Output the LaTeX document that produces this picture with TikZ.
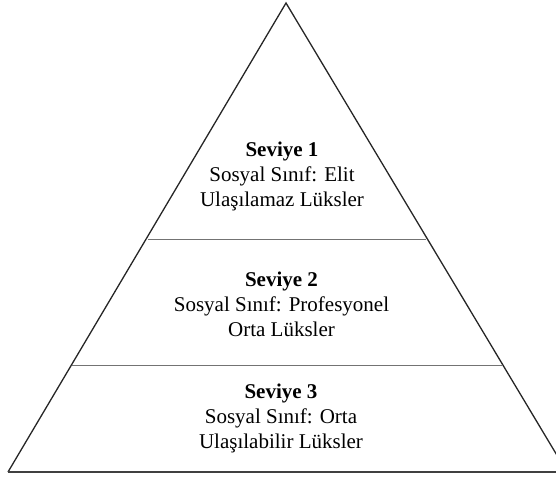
\documentclass[tikz,border=0pt]{standalone}
\usepackage{fontspec}
\setmainfont{Liberation Serif}
\begin{document}
\begin{tikzpicture}[x=1pt,y=-1pt,
  outline/.style={draw=black!85,line width=1.3pt,line join=miter},
  divider/.style={draw=black!55,line width=0.9pt},
  level/.style={align=center,font=\fontsize{21}{25}\selectfont,inner sep=0pt}]
\useasboundingbox (0,0) rectangle (556,477);
\clip (0,0) rectangle (556,477);
\coordinate (apex) at (286,3);
\coordinate (bl) at (8,472);
\coordinate (br) at (567,472);
\draw[outline] (bl) -- (apex) -- (br);
\draw[outline,draw=black!75,line width=1.6pt] (bl) -- (br);
\coordinate (d1l) at (148,239);
\coordinate (d1r) at (425.5,239);
\coordinate (d2l) at (72,365.7);
\coordinate (d2r) at (501.5,365.7);
\draw[divider] (d1l) -- (d1r);
\draw[divider] (d2l) -- (d2r);
\node[level] (l1) at (282,176) {\textbf{Seviye 1}\\Sosyal Sınıf: Elit\\Ulaşılamaz Lüksler};
\node[level] (l2) at (281.5,304) {\textbf{Seviye 2}\\Sosyal Sınıf: Profesyonel\\Orta Lüksler};
\node[level] (l3) at (281,418) {\textbf{Seviye 3}\\Sosyal Sınıf: Orta\\Ulaşılabilir Lüksler};
\end{tikzpicture}
\end{document}
